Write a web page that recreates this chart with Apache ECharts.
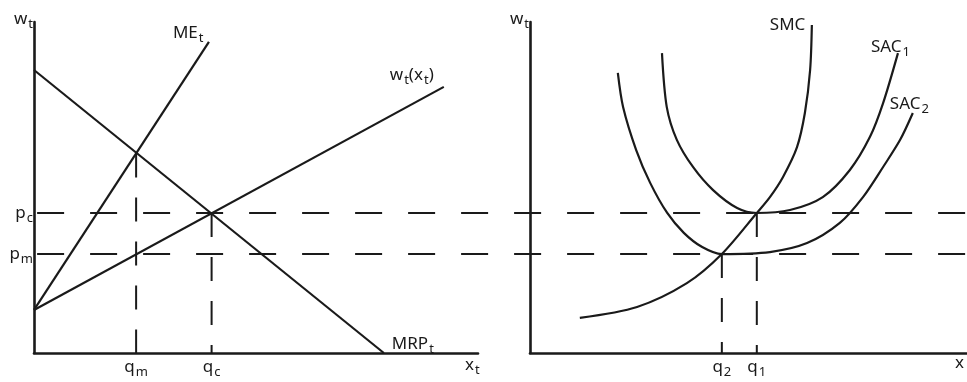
<!DOCTYPE html>
<html>
<head>
<meta charset="utf-8">
<script src="https://cdn.jsdelivr.net/npm/echarts@6/dist/echarts.min.js"></script>
<style>
html, body { margin: 0; padding: 0; background: #fff; }
#chart { width: 967px; height: 382px; }
</style>
</head>
<body>
<div id="chart"></div>
<script>
// left panel: labour market, in drawing units
const meLine = [[0, 1.3], [3.94, 9.4]];
const wageLine = [[0, 1.3], [9.23, 8.04]];
const mrpLine = [[0, 8.55], [7.88, 0]];
const priceLevels = [4.23, 2.99];
const priceNames = ['p_c', 'p_m'];
const leftQty = [2.3, 4.0];
const leftQtyTops = [6.03, 4.23];
const leftQtyNames = ['q_m', 'q_c'];

// right panel: short run cost curves
const smc = [[1.14, 1.06], [2.45, 1.39], [3.59, 2.11], [4.39, 2.99], [5.19, 4.23], [5.49, 4.71],
  [5.79, 5.32], [6.11, 6.22], [6.29, 7.25], [6.41, 8.55], [6.45, 9.91]];
const sac1 = [[3.02, 9.06], [3.13, 7.43], [3.36, 6.44], [3.73, 5.62], [4.19, 4.92], [4.74, 4.38],
  [5.19, 4.23], [5.95, 4.32], [6.70, 4.71], [7.32, 5.53], [7.78, 6.53], [8.08, 7.55], [8.42, 9.06]];
const sac2 = [[2.01, 8.46], [2.13, 7.43], [2.43, 6.13], [2.75, 5.14], [3.14, 4.23], [3.52, 3.63],
  [3.94, 3.2], [4.39, 2.99], [5.49, 3.05], [6.34, 3.32], [7.09, 3.93], [7.62, 4.71], [8.08, 5.62],
  [8.47, 6.44], [8.76, 7.25]];
const rightQty = [4.39, 5.19];
const rightQtyTops = [2.99, 4.23];
const rightQtyNames = ['q_2', 'q_1'];

const axisNames = ['w_t', 'x_t', 'w_t', 'x'];
const curveNames = ['ME_t', 'w_t(x_t)', 'MRP_t', 'SMC', 'SAC_1', 'SAC_2'];

const ink = '#1a1a1a';
const font = 'Noto Sans';
const richStyle = {
  b: { fontSize: 17, fontFamily: font, color: ink },
  s: { fontSize: 13, fontFamily: font, color: ink, padding: [11, 0, 0, 1] }
};

// 'ME_t' -> rich text with a subscript
function rich(s) {
  return s.split(/_(.)/).map((p, i) => p ? (i % 2 ? '{s|' + p + '}' : '{b|' + p + '}') : '').join('');
}

function curve(data, idx, name, pos, smooth) {
  return {
    type: 'line',
    xAxisIndex: idx,
    yAxisIndex: idx,
    smooth: smooth,
    symbol: 'circle',
    symbolSize: 0,
    showSymbol: true,
    silent: true,
    lineStyle: { color: ink, width: 2.2 },
    data: data.map((p, i) => i === data.length - 1 ? {
      value: p,
      label: { show: true, position: pos, align: 'left', verticalAlign: 'top', formatter: rich(name), rich: richStyle }
    } : p)
  };
}

function dashed(a, b, idx, dash) {
  return {
    type: 'line',
    xAxisIndex: idx,
    yAxisIndex: idx,
    symbol: 'none',
    silent: true,
    lineStyle: { color: ink, width: 2, type: dash },
    data: [a, b]
  };
}

function axis(extra) {
  return Object.assign({
    type: 'value',
    min: 0,
    max: 10,
    splitLine: { show: false },
    axisTick: { show: false },
    axisLine: { show: true, lineStyle: { color: ink, width: 2.6 } },
    axisLabel: { show: false }
  }, extra);
}

const series = [];
// horizontal dashed price lines run across both panels
priceLevels.forEach(p => series.push(dashed([0.07, p], [21, p], 2, [27, 26])));
leftQty.forEach((q, i) => series.push(dashed([q, leftQtyTops[i]], [q, 0], 0, [24, 20])));
rightQty.forEach((q, i) => series.push(dashed([q, rightQtyTops[i]], [q, 0], 1, [24, 20])));
series.push(curve(meLine, 0, curveNames[0], [-36, -21], false));
series.push(curve(wageLine, 0, curveNames[1], [-54, -24], false));
series.push(curve(mrpLine, 0, curveNames[2], [8, -21], false));
series.push(curve(smc, 1, curveNames[3], [-42, -8], 0.3));
series.push(curve(sac1, 1, curveNames[4], [-27, -18], 0.3));
series.push(curve(sac2, 1, curveNames[5], [-23, -21], 0.3));

const option = {
  animation: false,
  backgroundColor: '#fff',
  grid: [
    { left: 34, top: 22, width: 444, height: 331, outerBoundsMode: 'none' },
    { left: 530, top: 22, width: 437, height: 331, outerBoundsMode: 'none' },
    { left: 34, top: 22, width: 933, height: 331, outerBoundsMode: 'none' }
  ],
  xAxis: [
    axis({
      gridIndex: 0,
      name: rich(axisNames[1]),
      nameLocation: 'end',
      nameGap: -13,
      nameTextStyle: { align: 'left', verticalAlign: 'top', padding: [0, 0, 0, 0], rich: richStyle },
      axisLabel: {
        show: true, customValues: leftQty, margin: 2, rich: richStyle,
        formatter: (v, i) => rich(leftQtyNames[leftQty.indexOf(v)] || leftQtyNames[i])
      }
    }),
    axis({
      gridIndex: 1,
      name: rich(axisNames[3]),
      nameLocation: 'end',
      nameGap: -12,
      nameTextStyle: { align: 'left', verticalAlign: 'top', padding: [2, 0, 0, 0], rich: richStyle },
      axisLabel: {
        show: true, customValues: rightQty, margin: 2, rich: richStyle,
        formatter: (v, i) => rich(rightQtyNames[rightQty.indexOf(v)] || rightQtyNames[i])
      }
    }),
    axis({ gridIndex: 2, max: 21, show: false })
  ],
  yAxis: [
    axis({
      gridIndex: 0,
      name: rich(axisNames[0]),
      nameLocation: 'end',
      nameGap: 3,
      nameTextStyle: { align: 'right', verticalAlign: 'middle', padding: [0, 1, 0, 0], rich: richStyle },
      axisLabel: {
        show: true, customValues: priceLevels, margin: 1, rich: richStyle,
        formatter: (v, i) => rich(priceNames[priceLevels.indexOf(v)] || priceNames[i])
      }
    }),
    axis({
      gridIndex: 1,
      name: rich(axisNames[2]),
      nameLocation: 'end',
      nameGap: 3,
      nameTextStyle: { align: 'right', verticalAlign: 'middle', padding: [0, 1, 0, 0], rich: richStyle }
    }),
    axis({ gridIndex: 2, show: false })
  ],
  series: series
};

const myChart = echarts.init(document.getElementById('chart'));
myChart.setOption(option);
window.addEventListener('resize', () => myChart.resize());
</script>
</body>
</html>
